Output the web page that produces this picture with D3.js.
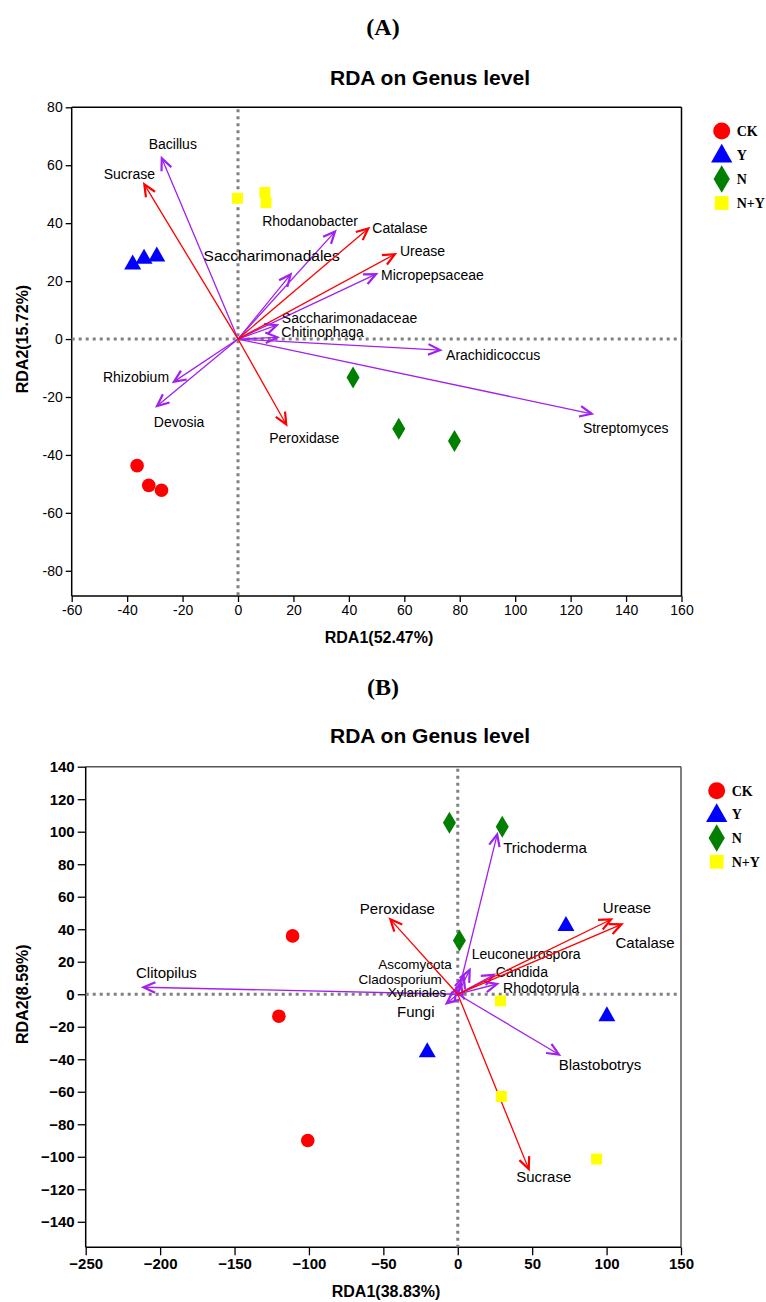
<!DOCTYPE html>
<html>
<head>
<meta charset="utf-8">
<script src="https://cdn.jsdelivr.net/npm/d3@7"></script>
<style>
  body { margin: 0; background: #fff; }
  text { font-family: "Liberation Sans", Arial, sans-serif; }
</style>
</head>
<body>
<script>
// ---- data ----
const groupNames = ["CK", "Y", "N", "N+Y"];

// panel A: bacteria
const samplesA = [
  ["CK", -36.4, -43.7], ["CK", -32.2, -50.5], ["CK", -27.6, -52.2],
  ["Y", -38.0, 26.1], ["Y", -33.9, 28.1], ["Y", -29.3, 28.8],
  ["N", 41.5, -13.3], ["N", 58.0, -31.0], ["N", 78.1, -35.2],
  ["N+Y", -0.2, 48.6], ["N+Y", 9.7, 50.6], ["N+Y", 10.1, 47.1]
];
const taxaA = [
  ["Bacillus", -27.5, 62.4], ["Rhodanobacter", 35.0, 37.1],
  ["Saccharimonadales", 19.0, 22.3], ["Micropepsaceae", 49.8, 22.4],
  ["Saccharimonadaceae", 14.0, 4.8], ["Chitinophaga", 14.2, 0.6],
  ["Arachidicoccus", 72.9, -3.8], ["Streptomyces", 127.6, -25.8],
  ["Rhizobium", -23.1, -14.7], ["Devosia", -29.2, -23.1]
];
const enzymesA = [
  ["Sucrase", -33.8, 53.4], ["Catalase", 47.0, 38.2],
  ["Urease", 56.6, 29.3], ["Peroxidase", 17.4, -29.5]
];

// panel B: fungi
const samplesB = [
  ["CK", -111.0, 35.9], ["CK", -120.2, -13.5], ["CK", -100.8, -90.0],
  ["Y", 72.7, 42.6], ["Y", 100.2, -13.0], ["Y", -20.5, -35.0],
  ["N", -5.6, 105.5], ["N", 29.9, 103.1], ["N", 1.1, 33.0],
  ["N+Y", 28.7, -4.1], ["N+Y", 29.3, -62.9], ["N+Y", 93.3, -101.4]
];
const taxaB = [
  ["Clitopilus", -211.2, 4.3], ["Trichoderma", 26.5, 98.4],
  ["Leuconeurospora", 8.0, 15.0], ["Ascomycota", 4.0, 11.0],
  ["Cladosporium", 2.0, 7.0], ["Xylariales", -1.0, 3.0],
  ["Candida", 24.2, 11.9], ["Rhodotorula", 26.4, 6.3],
  ["Blastobotrys", 68.0, -37.1], ["Fungi", -7.4, -5.5]
];
const enzymesB = [
  ["Peroxidase", -45.3, 46.1], ["Urease", 103.0, 46.0],
  ["Catalase", 110.0, 43.0], ["Sucrase", 47.7, -107.6]
];

const xTicksA = d3.range(-60, 161, 20);
const yTicksA = d3.range(-80, 81, 20);
const xTicksB = d3.range(-250, 151, 50);
const yTicksB = d3.range(-140, 141, 20);

// ---- label placement (pixels from arrow tip) ----
const labelPosA = {
  Bacillus: [11, -14, "middle"], Rhodanobacter: [-25, -10, "middle"],
  Saccharimonadales: [-19, -19, "middle"], Micropepsaceae: [5, 1, "start"],
  Saccharimonadaceae: [5, -7, "start"], Chitinophaga: [4, -5, "start"],
  Arachidicoccus: [6, 5, "start"], Streptomyces: [34, 14, "middle"],
  Rhizobium: [-38, -5, "middle"], Devosia: [22, 16, "middle"],
  Sucrase: [-15, -10, "middle"], Catalase: [4, 0, "start"],
  Urease: [5, -3, "start"], Peroxidase: [18, 14, "middle"]
};
const labelPosB = {
  Clitopilus: [23, -15, "middle"], Trichoderma: [6, 13, "start"],
  Leuconeurospora: [2, -16, "start"], Ascomycota: [-12, -12, "end"],
  Cladosporium: [-19, -4, "end"], Xylariales: [-10, 3, "end"],
  Candida: [2, -3, "start"], Rhodotorula: [6, 4, "start"],
  Blastobotrys: [41, 10, "middle"], Fungi: [-31, 9, "middle"],
  Peroxidase: [7, -11, "middle"], Urease: [16, -12, "middle"],
  Catalase: [-6, 18, "start"], Sucrase: [15, 8, "middle"]
};
const smallLabelsB = { Leuconeurospora: 14, Ascomycota: 13.5, Cladosporium: 13.5, Xylariales: 13.5, Candida: 14, Rhodotorula: 14 };

const colors = { "CK": "#ff0000", "Y": "#0000ff", "N": "#007f00", "N+Y": "#ffff00" };
const taxonColor = "#a020f0", enzymeColor = "#ff0000";

const svg = d3.select("body").append("svg")
  .attr("width", 766).attr("height", 1302);

function mark(g, group, cx, cy, k) {
  k = k || 1;
  if (group === "CK") {
    g.append("circle").attr("cx", cx).attr("cy", cy).attr("r", 6.8 * k).attr("fill", colors[group]);
  } else if (group === "Y") {
    const w = 8.5 * k, h = 15 * k;
    g.append("path").attr("d", `M${cx},${cy - h * 0.6}L${cx + w},${cy + h * 0.4}L${cx - w},${cy + h * 0.4}Z`)
      .attr("fill", colors[group]);
  } else if (group === "N") {
    const w = 6.5 * k, h = 11 * k;
    g.append("path").attr("d", `M${cx},${cy - h}L${cx + w},${cy}L${cx},${cy + h}L${cx - w},${cy}Z`)
      .attr("fill", colors[group]);
  } else {
    const s = 5.5 * k;
    g.append("rect").attr("x", cx - s).attr("y", cy - s).attr("width", 2 * s).attr("height", 2 * s)
      .attr("fill", colors[group]);
  }
}

function drawPanel(p) {
  const x = d3.scaleLinear().domain(p.xDomain).range([p.left, p.right]);
  const y = d3.scaleLinear().domain(p.yDomain).range([p.bottom, p.top]);
  const g = svg.append("g");

  g.append("text").attr("x", 383).attr("y", p.tagY).attr("text-anchor", "middle")
    .style("font-family", "'Liberation Serif', 'Times New Roman', serif")
    .style("font-weight", "bold").style("font-size", "24px").text(p.tag);
  g.append("text").attr("x", 430).attr("y", p.titleY).attr("text-anchor", "middle")
    .style("font-weight", "bold").style("font-size", "21px").text("RDA on Genus level");

  // axes
  const fmt = p.minus ? (d => String(d).replace("-", "\u2212")) : (d => String(d));
  const ax = g.append("g").attr("transform", `translate(0,${p.bottom})`)
    .call(d3.axisBottom(x).tickValues(p.xTicks).tickFormat(fmt).tickSizeOuter(0).tickSize(p.tickLen).tickPadding(3));
  const ay = g.append("g").attr("transform", `translate(${p.left},0)`)
    .call(d3.axisLeft(y).tickValues(p.yTicks).tickFormat(fmt).tickSizeOuter(0).tickSize(p.tickLen).tickPadding(3));
  [ax, ay].forEach(a => {
    a.select(".domain").remove();
    a.selectAll("line").attr("stroke", "#000").attr("stroke-width", 1.3);
    a.selectAll("text").attr("fill", "#000")
      .style("font-family", "'Liberation Sans', Arial, sans-serif")
      .style("font-size", p.tickFont + "px").style("font-weight", p.tickBold ? "bold" : "normal");
  });

  // frame
  g.append("line").attr("x1", p.left).attr("x2", p.right).attr("y1", p.top).attr("y2", p.top)
    .attr("stroke", p.topColor).attr("stroke-width", 1.5);
  g.append("line").attr("x1", p.right).attr("x2", p.right).attr("y1", p.top).attr("y2", p.bottom)
    .attr("stroke", p.topColor).attr("stroke-width", 1.5);
  g.append("line").attr("x1", p.left).attr("x2", p.right).attr("y1", p.bottom).attr("y2", p.bottom)
    .attr("stroke", "#000").attr("stroke-width", 1.5);
  g.append("line").attr("x1", p.left).attr("x2", p.left).attr("y1", p.top).attr("y2", p.bottom)
    .attr("stroke", "#000").attr("stroke-width", 1.5);

  // zero lines
  g.append("line").attr("x1", x(0)).attr("x2", x(0)).attr("y1", p.top + 2).attr("y2", p.bottom)
    .attr("stroke", "#808080").attr("stroke-width", 3).attr("stroke-dasharray", "3,4");
  g.append("line").attr("x1", p.left).attr("x2", p.right).attr("y1", y(0)).attr("y2", y(0))
    .attr("stroke", "#808080").attr("stroke-width", 3).attr("stroke-dasharray", "3,4");

  // axis titles
  g.append("text").attr("x", p.xTitleX).attr("y", p.xTitleY).attr("text-anchor", "middle")
    .style("font-weight", "bold").style("font-size", "16px").text(p.xTitle);
  g.append("text").attr("transform", `translate(28,${y(0)}) rotate(-90)`).attr("text-anchor", "middle")
    .style("font-weight", "bold").style("font-size", "16px").text(p.yTitle);

  // arrows
  function arrows(list, color) {
    list.forEach(([name, vx, vy]) => {
      const x0 = x(0), y0 = y(0), x1 = x(vx), y1 = y(vy);
      const a = Math.atan2(y1 - y0, x1 - x0), L = 13, f = 0.42;
      g.append("line").attr("x1", x0).attr("y1", y0).attr("x2", x1).attr("y2", y1)
        .attr("stroke", color).attr("stroke-width", 1.3);
      g.append("path")
        .attr("d", `M${x1 - L * Math.cos(a - f)},${y1 - L * Math.sin(a - f)}L${x1},${y1}L${x1 - L * Math.cos(a + f)},${y1 - L * Math.sin(a + f)}`)
        .attr("fill", "none").attr("stroke", color).attr("stroke-width", 2.2);
      const lp = p.labels[name];
      g.append("text").attr("x", x1 + lp[0]).attr("y", y1 + lp[1]).attr("dy", "0.35em")
        .attr("text-anchor", lp[2])
        .style("font-size", (p.labelSizes[name] || p.labelFont) + "px").text(name);
    });
  }
  arrows(p.taxa, taxonColor);
  arrows(p.enzymes, enzymeColor);

  // samples
  p.samples.forEach(([grp, vx, vy]) => mark(g, grp, x(vx), y(vy), 1));

  // legend
  groupNames.forEach((name, i) => {
    const ly = p.legendY + i * p.legendStep;
    mark(g, name, p.legendX, ly, 1.25);
    g.append("text").attr("x", p.legendX + 15).attr("y", ly).attr("dy", "0.35em")
      .style("font-family", "'Liberation Serif', 'Times New Roman', serif")
      .style("font-weight", "bold").style("font-size", "14px").text(name);
  });
}

drawPanel({
  tag: "(A)", tagY: 35, titleY: 85,
  xDomain: [-60, 160], yDomain: [-88.7, 80],
  left: 71.7, right: 681.5, top: 107.3, bottom: 596,
  xTicks: xTicksA, yTicks: yTicksA, tickLen: 6, tickFont: 14, tickBold: false, minus: false,
  topColor: "#000",
  xTitle: "RDA1(52.47%)", yTitle: "RDA2(15.72%)", xTitleX: 379, xTitleY: 643,
  samples: samplesA, taxa: taxaA, enzymes: enzymesA,
  labels: labelPosA, labelFont: 14, labelSizes: { Saccharimonadales: 15.5 },
  legendX: 721.7, legendY: 131, legendStep: 24
});

drawPanel({
  tag: "(B)", tagY: 695, titleY: 743,
  xDomain: [-250, 150], yDomain: [-155.7, 140],
  left: 85.7, right: 681, top: 766.7, bottom: 1247.3,
  xTicks: xTicksB, yTicks: yTicksB, tickLen: 8, tickFont: 15, tickBold: true, minus: true,
  topColor: "#555",
  xTitle: "RDA1(38.83%)", yTitle: "RDA2(8.59%)", xTitleX: 386, xTitleY: 1297,
  samples: samplesB, taxa: taxaB, enzymes: enzymesB,
  labels: labelPosB, labelFont: 15, labelSizes: smallLabelsB,
  legendX: 716.7, legendY: 790.7, legendStep: 23.7
});
</script>
</body>
</html>
